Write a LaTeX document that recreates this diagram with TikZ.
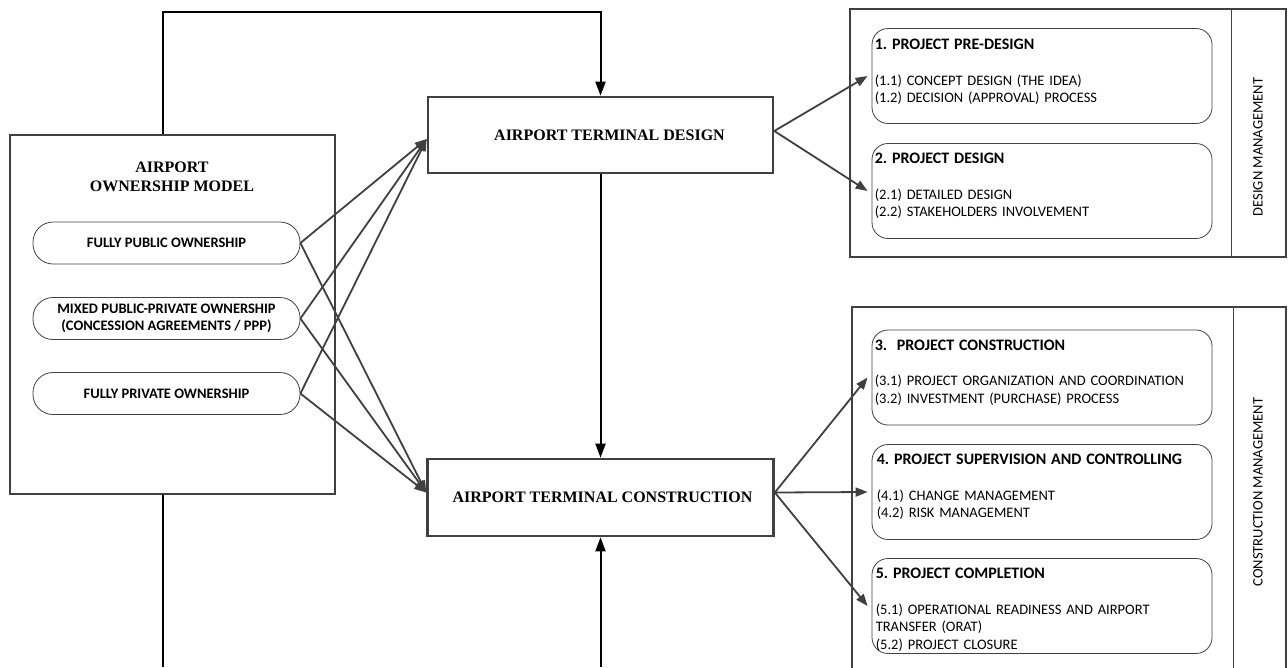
\documentclass[tikz,border=0pt]{standalone}
\usepackage{fontspec}
\setmainfont{Liberation Serif}
\newfontfamily\carlito{Carlito}
\usetikzlibrary{arrows.meta,calc}
\definecolor{ink}{RGB}{64,64,64}
\newcommand\phead[1]{{\bfseries\fontsize{16}{17.5}\selectfont #1}}
\tikzset{
  frame/.style={draw=ink, line width=2.6pt},
  model/.style={draw=ink, line width=0.8pt, rounded corners=20pt, minimum width=267pt, minimum height=42pt,
    align=center, font=\carlito\bfseries\fontsize{14.5}{17.5}\selectfont},
  phase/.style={draw=ink, line width=0.8pt, rounded corners=16pt, minimum width=340pt, minimum height=95pt},
  phasetext/.style={anchor=north west, inner sep=0pt, text width=335pt, align=left,
    font=\carlito\fontsize{14.5}{17.5}\selectfont},
  title/.style={align=center, font=\bfseries\fontsize{16}{19}\selectfont},
  side/.style={rotate=90, font=\carlito\fontsize{14.5}{17}\selectfont},
  link/.style={draw=ink, line width=1.8pt, -{Triangle[length=12pt,width=9pt]}},
  feed/.style={draw=black, line width=2pt},
  tip/.style={-{Triangle[length=14pt,width=10pt]}}
}
\begin{document}
\frenchspacing
\begin{tikzpicture}[x=1pt,y=-1pt]
\useasboundingbox (0,0) rectangle (1288,667);
\node[frame, minimum width=325pt, minimum height=359pt] (own) at (172.5,314.5) {};
\node[title] (ownt) at (172,177) {AIRPORT\\OWNERSHIP MODEL};
\node[model] (o1) at (166.5,243) {FULLY PUBLIC OWNERSHIP};
\node[model] (o2) at (166.5,318.5) {MIXED PUBLIC-PRIVATE OWNERSHIP\\(CONCESSION AGREEMENTS / PPP)};
\node[model] (o3) at (166.5,393.5) {FULLY PRIVATE OWNERSHIP};

\node[frame, minimum width=345pt, minimum height=76pt] (dsg) at (600.5,135) {};
\node[title] (dsgt) at ([xshift=9pt]dsg.center) {AIRPORT TERMINAL DESIGN};
\node[frame, minimum width=346pt, minimum height=77pt] (con) at (600.5,497.5) {};
\node[title] (cont) at ([xshift=2pt]con.center) {AIRPORT TERMINAL CONSTRUCTION};

\draw[frame] (850,9) rectangle (1286,257);
\draw[ink, line width=1pt] (1231,9) -- (1231,257);
\node[side] (dm) at (1258,147) {DESIGN MANAGEMENT};
\draw[frame] (852,680) -- (852,307) -- (1286,307) -- (1286,680);
\draw[ink, line width=1pt] (1233,307) -- (1233,680);
\node[side] (cm) at (1258,492) {CONSTRUCTION MANAGEMENT};

\node[phase] (p1) at (1042,76) {};
\node[phasetext] (p1t) at ([shift={(3pt,-11pt)}]p1.north west) {\phead{1. PROJECT PRE-DESIGN}\\[18pt]
  (1.1) CONCEPT DESIGN (THE IDEA)\\(1.2) DECISION (APPROVAL) PROCESS};
\node[phase] (p2) at (1042,191) {};
\node[phasetext] (p2t) at ([shift={(3pt,-10pt)}]p2.north west) {\phead{2. PROJECT DESIGN}\\[18pt]
  (2.1) DETAILED DESIGN\\(2.2) STAKEHOLDERS INVOLVEMENT};
\node[phase] (p3) at (1042,377.5) {};
\node[phasetext] (p3t) at ([shift={(3pt,-10pt)}]p3.north west) {\phead{3.\ \ PROJECT CONSTRUCTION}\\[18pt]
  (3.1) PROJECT ORGANIZATION AND COORDINATION\\(3.2) INVESTMENT (PURCHASE) PROCESS};
\node[phase] (p4) at (1042,492) {};
\node[phasetext] (p4t) at ([shift={(5pt,-10pt)}]p4.north west) {\phead{4. PROJECT SUPERVISION AND CONTROLLING}\\[18pt]
  (4.1) CHANGE MANAGEMENT\\(4.2) RISK MANAGEMENT};
\node[phase] (p5) at (1042,606) {};
\node[phasetext] (p5t) at ([shift={(4pt,-10pt)}]p5.north west) {\phead{5. PROJECT COMPLETION}\\[18pt]
  (5.1) OPERATIONAL READINESS AND AIRPORT\\TRANSFER (ORAT)\\(5.2) PROJECT CLOSURE};

\foreach \o in {o1,o2,o3} {
  \draw[link] (\o.east) -- ([yshift=-4pt]dsg.west);
  \draw[link] (\o.east) -- ([yshift=5pt]con.west);
}
\foreach \p in {p1,p2} \draw[link] ([yshift=4pt]dsg.east) -- ([xshift=-4pt]\p.west);
\foreach \p in {p3,p4,p5} \draw[link] ([yshift=5pt]con.east) -- ([xshift=-4pt]\p.west);

\coordinate (tl) at (163,12);
\coordinate (bl) at (163,667);
\draw[feed, tip] (tl |- own.north) -- (tl) -| (dsg.north);
\draw[feed] (tl |- own.south) -- (bl);
\draw[feed, tip] (dsg.south) -- (con.north);
\draw[feed, tip] (con.south |- bl) -- (con.south);
\end{tikzpicture}
\end{document}
